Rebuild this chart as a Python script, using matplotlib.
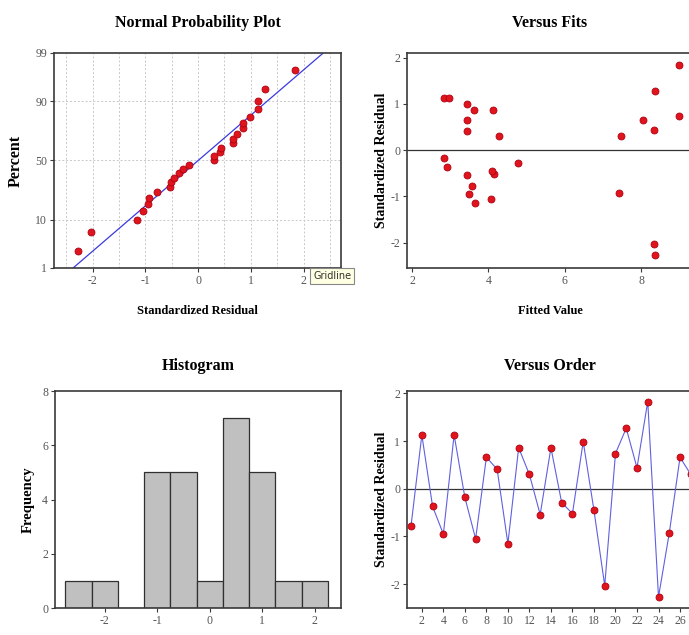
import numpy as np
import matplotlib
matplotlib.use("Agg")
import matplotlib.pyplot as plt
from statistics import NormalDist

# ---------------- data ----------------
order = list(range(1, 28))
residuals = [-0.77, 1.13, -0.37, -0.95, 1.13, -0.18, -1.05, 0.66, 0.41, -1.15,
             0.86, 0.30, -0.54, 0.86, -0.29, -0.52, 0.99, -0.45, -2.03, 0.74,
             1.27, 0.44, 1.83, -2.27, -0.93, 0.66, 0.30]
fits = [3.57, 2.84, 2.91, 3.50, 2.96, 2.83, 4.07, 3.45, 3.43, 3.65,
        3.63, 4.27, 3.45, 4.11, 4.77, 4.15, 3.43, 4.09, 8.32, 8.98,
        8.35, 8.32, 8.98, 8.35, 7.42, 8.04, 7.46]
hist_bins = [-2.75, -2.25, -1.75, -1.25, -0.75, -0.25, 0.25, 0.75, 1.25, 1.75, 2.25]
pct_ticks = [1, 10, 50, 90, 99]
order_ticks = list(range(2, 28, 2))

# ---------------- style ----------------
plt.rcParams['font.family'] = ['Liberation Serif', 'DejaVu Serif']
plt.rcParams['axes.unicode_minus'] = False
TICK_C = '#555555'
SPINE_C = '#3a3a3a'
PT_C = '#e0141c'
PT_EC = '#b00010'
TITLE_FS = 11.5
XLAB_FS = 9
YLAB_FS = 10

fig = plt.figure(figsize=(6.89, 6.35), dpi=100)

def style(ax):
    for s in ax.spines.values():
        s.set_color(SPINE_C)
        s.set_linewidth(1.2)
    ax.tick_params(direction='out', length=3, width=0.8, color=SPINE_C,
                   labelsize=8.5, labelcolor=TICK_C, pad=2)

nd = NormalDist()
z = lambda p: nd.inv_cdf(p / 100.0)

# ---- Normal probability plot ----
ax1 = fig.add_axes([0.0784, 0.578, 0.4165, 0.3386])
style(ax1)
srt = np.sort(residuals)
n = len(srt)
pp = [(i - 0.3) / (n + 0.4) * 100 for i in range(1, n + 1)]
zz = [z(p) for p in pp]
for gx in np.arange(-2.5, 2.51, 0.5):
    ax1.axvline(gx, color='#c8c8c8', lw=0.7, ls=(0, (2, 2)), zorder=0)
for gp in [10, 50, 90]:
    ax1.axhline(z(gp), color='#c8c8c8', lw=0.7, ls=(0, (2, 2)), zorder=0)
mu, sd = float(np.mean(residuals)), float(np.std(residuals, ddof=1))
lx = np.array([-3.0, 3.0])
ax1.plot(lx, (lx - mu) / sd, color='#3a3ae0', lw=0.9, zorder=2)
ax1.plot(srt, zz, 'o', ms=5, color=PT_C, mec=PT_EC, mew=0.6, zorder=3)
ax1.set_xlim(-2.73, 2.71)
ax1.set_ylim(z(1), z(99))
ax1.set_yticks([z(p) for p in pct_ticks])
ax1.set_yticklabels([str(p) for p in pct_ticks])
ax1.set_xticks([-2, -1, 0, 1, 2])
ax1.set_title('Normal Probability Plot', fontsize=TITLE_FS, fontweight='bold', pad=19)
ax1.set_xlabel('Standardized Residual', fontsize=XLAB_FS, fontweight='bold', labelpad=13)
ax1.set_ylabel('Percent', fontsize=11.5, fontweight='bold', labelpad=8)

# ---- Versus Fits ----
ax2 = fig.add_axes([0.5907, 0.578, 0.415, 0.3386])
style(ax2)
ax2.spines['right'].set_visible(False)
ax2.axhline(0, color='#333333', lw=0.9, zorder=1)
ax2.plot(fits, residuals, 'o', ms=5, color=PT_C, mec=PT_EC, mew=0.6, zorder=3)
ax2.set_xlim(1.87, 9.35)
ax2.set_ylim(-2.55, 2.1)
ax2.set_xticks([2, 4, 6, 8])
ax2.set_yticks([-2, -1, 0, 1, 2])
ax2.set_title('Versus Fits', fontsize=TITLE_FS, fontweight='bold', pad=19)
ax2.set_xlabel('Fitted Value', fontsize=XLAB_FS, fontweight='bold', labelpad=13)
ax2.set_ylabel('Standardized Residual', fontsize=YLAB_FS, fontweight='bold', labelpad=2)

# ---- Histogram ----
ax3 = fig.add_axes([0.0798, 0.0425, 0.415, 0.3417])
style(ax3)
ax3.hist(residuals, bins=hist_bins, color='#c0c0c0', edgecolor='#303030', linewidth=0.9)
ax3.set_xlim(-2.95, 2.5)
ax3.set_ylim(0, 8)
ax3.set_xticks([-2, -1, 0, 1, 2])
ax3.set_yticks([0, 2, 4, 6, 8])
ax3.set_title('Histogram', fontsize=TITLE_FS, fontweight='bold', pad=15)
ax3.set_ylabel('Frequency', fontsize=10.5, fontweight='bold', labelpad=5)

# ---- Versus Order ----
ax4 = fig.add_axes([0.5907, 0.0425, 0.415, 0.3417])
style(ax4)
ax4.spines['right'].set_visible(False)
ax4.axhline(0, color='#333333', lw=0.9, zorder=1)
ax4.plot(order, residuals, '-', color='#6060e0', lw=0.8, zorder=2)
ax4.plot(order, residuals, 'o', ms=5, color=PT_C, mec=PT_EC, mew=0.6, zorder=3)
ax4.set_xlim(0.62, 27.2)
ax4.set_ylim(-2.5, 2.05)
ax4.set_xticks(order_ticks)
ax4.set_yticks([-2, -1, 0, 1, 2])
ax4.set_title('Versus Order', fontsize=TITLE_FS, fontweight='bold', pad=15)
ax4.set_ylabel('Standardized Residual', fontsize=YLAB_FS, fontweight='bold', labelpad=2)

# tooltip
fig.text(313 / 689, 1 - 276 / 635, 'Gridline', fontsize=7, color='#333333',
         family=['DejaVu Sans'], va='center', ha='left',
         bbox=dict(boxstyle='square,pad=0.3', fc='#ffffe1', ec='#888888', lw=0.8))

fig.savefig('out.png', dpi=100)
